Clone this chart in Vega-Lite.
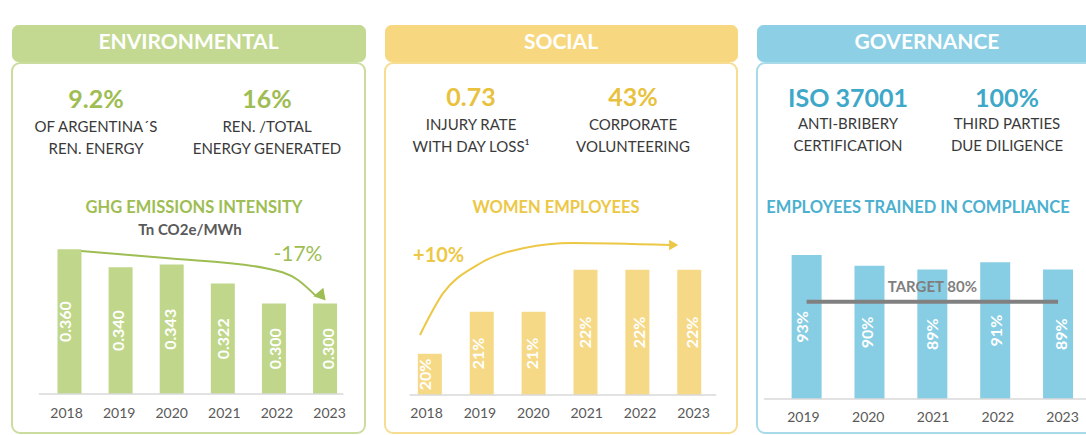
{
  "$schema": "https://vega.github.io/schema/vega-lite/v6.json",
  "background": "white",
  "padding": {"left": 11, "top": 24, "right": 0, "bottom": 0},
  "config": {"font": "Lato", "view": {"stroke": null}},
  "datasets": {
    "ghg": [
      {"year": 2018, "intensity": 0.360},
      {"year": 2019, "intensity": 0.340},
      {"year": 2020, "intensity": 0.343},
      {"year": 2021, "intensity": 0.322},
      {"year": 2022, "intensity": 0.300},
      {"year": 2023, "intensity": 0.300}
    ],
    "ghgTrend": [
      {"year": 2018.23, "level": 0.358},
      {"year": 2019.94, "level": 0.350},
      {"year": 2021.84, "level": 0.339},
      {"year": 2022.47, "level": 0.326},
      {"year": 2022.81, "level": 0.309}
    ],
    "women": [
      {"year": 2018, "share": 0.20},
      {"year": 2019, "share": 0.21},
      {"year": 2020, "share": 0.21},
      {"year": 2021, "share": 0.22},
      {"year": 2022, "share": 0.22},
      {"year": 2023, "share": 0.22}
    ],
    "womenTrend": [
      {"year": 2017.81, "level": 0.2045},
      {"year": 2018.26, "level": 0.2145},
      {"year": 2018.88, "level": 0.2209},
      {"year": 2019.82, "level": 0.2252},
      {"year": 2020.75, "level": 0.2264},
      {"year": 2022.63, "level": 0.2259}
    ],
    "compliance": [
      {"year": 2019, "trained": 0.93},
      {"year": 2020, "trained": 0.90},
      {"year": 2021, "trained": 0.89},
      {"year": 2022, "trained": 0.91},
      {"year": 2023, "trained": 0.89}
    ],
    "kpiEnv": [
      {"col": "L", "value": "9.2%", "line1": "OF ARGENTINA´S", "line2": "REN. ENERGY"},
      {"col": "R", "value": "16%", "line1": "REN. /TOTAL", "line2": "ENERGY GENERATED"}
    ],
    "kpiSoc": [
      {"col": "L", "value": "0.73", "line1": "INJURY RATE", "line2": "WITH DAY LOSS¹"},
      {"col": "R", "value": "43%", "line1": "CORPORATE", "line2": "VOLUNTEERING"}
    ],
    "kpiGov": [
      {"col": "L", "value": "ISO 37001", "line1": "ANTI-BRIBERY", "line2": "CERTIFICATION"},
      {"col": "R", "value": "100%", "line1": "THIRD PARTIES", "line2": "DUE DILIGENCE"}
    ]
  },
  "spacing": 18,
  "hconcat": [
    {
      "spacing": 0,
      "vconcat": [
        {
          "width": 353, "height": 36,
          "view": {"fill": "#c3d991", "stroke": "#c3d991", "cornerRadius": 6},
          "data": {"values": [{"pillar": "ENVIRONMENTAL"}]},
          "mark": {"type": "text", "color": "white", "fontSize": 21, "fontWeight": "bold", "baseline": "middle"},
          "encoding": {"text": {"field": "pillar"}}
        },
        {
          "width": 353, "height": 370,
          "view": {"stroke": "#cadd9e", "strokeWidth": 2, "cornerRadius": 8},
          "resolve": {"scale": {"x": "independent", "y": "independent"}, "axis": {"x": "independent", "y": "independent"}},
          "layer": [
            {
              "data": {"name": "kpiEnv"},
              "transform": [{"fold": ["value"], "as": ["row", "txt"]}],
              "mark": {"type": "text", "fontSize": 25, "fontWeight": "bold", "color": "#9ebd52"},
              "encoding": {
                "x": {"field": "col", "type": "nominal", "scale": {"domain": ["L", "R"], "range": [84, 255], "padding": 0}, "axis": null},
                "y": {"field": "row", "type": "nominal", "scale": {"domain": ["value"], "range": [37, 37], "padding": 0}, "axis": null},
                "text": {"field": "txt"}
              }
            },
            {
              "data": {"name": "kpiEnv"},
              "transform": [{"fold": ["line1", "line2"], "as": ["row", "txt"]}],
              "mark": {"type": "text", "fontSize": 15, "color": "#3a3a3a"},
              "encoding": {
                "x": {"field": "col", "type": "nominal", "scale": {"domain": ["L", "R"], "range": [84, 255], "padding": 0}, "axis": null},
                "y": {"field": "row", "type": "nominal", "scale": {"domain": ["line1", "line2"], "range": [64, 86], "padding": 0}, "axis": null},
                "text": {"field": "txt"}
              }
            },
            {
              "data": {"values": [{"title": "GHG EMISSIONS INTENSITY", "unit": "Tn CO2e/MWh"}]},
              "transform": [{"fold": ["title", "unit"], "as": ["row", "txt"]}],
              "mark": {"type": "text", "fontWeight": "bold"},
              "encoding": {
                "x": {"field": "row", "type": "nominal", "scale": {"domain": ["title", "unit"], "range": [182, 178], "padding": 0}, "axis": null},
                "y": {"field": "row", "type": "nominal", "scale": {"domain": ["title", "unit"], "range": [145, 167], "padding": 0}, "axis": null},
                "size": {"field": "row", "type": "nominal", "scale": {"type": "ordinal", "domain": ["title", "unit"], "range": [16.5, 15]}, "legend": null},
                "color": {"field": "row", "type": "nominal", "scale": {"domain": ["title", "unit"], "range": ["#9ebd52", "#595959"]}, "legend": null},
                "text": {"field": "txt"}
              }
            },
            {
              "layer": [
                {
                  "data": {"name": "ghg"},
                  "mark": {"type": "bar", "width": 24, "color": "#c0d78b"},
                  "encoding": {
                    "x": {"field": "year", "type": "quantitative", "scale": {"domain": [2016.973, 2023.684], "nice": false, "zero": false}, "axis": null},
                    "y": {"field": "intensity", "type": "quantitative", "scale": {"domain": [0.15691, 0.56575], "nice": false, "zero": false}, "axis": null},
                    "y2": {"datum": 0.2}
                  }
                },
                {
                  "data": {"values": [{"base": 0.2}]},
                  "mark": {"type": "rule", "color": "#d9d9d9", "strokeWidth": 1.5},
                  "encoding": {
                    "x": {"datum": 2017.4, "type": "quantitative", "axis": null},
                    "x2": {"datum": 2023.36},
                    "y": {"field": "base", "type": "quantitative", "axis": null}
                  }
                },
                {
                  "data": {"name": "ghgTrend"},
                  "mark": {"type": "line", "interpolate": "monotone", "color": "#9ebd52", "strokeWidth": 2},
                  "encoding": {
                    "x": {"field": "year", "type": "quantitative", "axis": null},
                    "y": {"field": "level", "type": "quantitative", "axis": null}
                  }
                },
                {
                  "data": {"values": [{"change": "-17%"}]},
                  "mark": {"type": "point", "shape": "triangle-down", "angle": -40, "filled": true, "size": 170, "color": "#9ebd52", "opacity": 1},
                  "encoding": {
                    "x": {"datum": 2022.94, "type": "quantitative", "axis": null},
                    "y": {"datum": 0.308, "type": "quantitative", "axis": null}
                  }
                },
                {
                  "data": {"values": [{"change": "-17%"}]},
                  "mark": {"type": "text", "fontSize": 21, "color": "#9ebd52"},
                  "encoding": {
                    "x": {"datum": 2022.47, "type": "quantitative", "axis": null},
                    "y": {"datum": 0.354, "type": "quantitative", "axis": null},
                    "text": {"field": "change"}
                  }
                }
              ]
            },
            {
              "data": {"name": "ghg"},
              "mark": {"type": "text", "angle": 270, "color": "white", "fontSize": 16, "fontWeight": "bold"},
              "encoding": {
                "x": {"field": "year", "type": "quantitative", "scale": {"domain": [2016.973, 2023.684], "nice": false, "zero": false},
                  "axis": {"orient": "bottom", "offset": -39, "values": [2018, 2019, 2020, 2021, 2022, 2023], "format": "d", "domain": false, "ticks": false, "grid": false, "labelPadding": 19, "labelBaseline": "middle", "labelFontSize": 14, "labelColor": "#595959", "labelFlush": false, "labelOverlap": false, "title": null}},
                "y": {"field": "intensity", "type": "quantitative", "scale": {"domain": [0.11381, 0.9315], "nice": false, "zero": false}, "axis": null},
                "text": {"field": "intensity", "type": "quantitative", "format": ".3f"}
              }
            }
          ]
        }
      ]
    },
    {
      "spacing": 0,
      "vconcat": [
        {
          "width": 352, "height": 36,
          "view": {"fill": "#f7d880", "stroke": "#f7d880", "cornerRadius": 6},
          "data": {"values": [{"pillar": "SOCIAL"}]},
          "mark": {"type": "text", "color": "white", "fontSize": 21, "fontWeight": "bold", "baseline": "middle"},
          "encoding": {"text": {"field": "pillar"}}
        },
        {
          "width": 352, "height": 370,
          "view": {"stroke": "#f6dd92", "strokeWidth": 2, "cornerRadius": 8},
          "resolve": {"scale": {"x": "independent", "y": "independent"}, "axis": {"x": "independent", "y": "independent"}},
          "layer": [
            {
              "data": {"name": "kpiSoc"},
              "transform": [{"fold": ["value"], "as": ["row", "txt"]}],
              "mark": {"type": "text", "fontSize": 25, "fontWeight": "bold", "color": "#e8c23f"},
              "encoding": {
                "x": {"field": "col", "type": "nominal", "scale": {"domain": ["L", "R"], "range": [86, 248], "padding": 0}, "axis": null},
                "y": {"field": "row", "type": "nominal", "scale": {"domain": ["value"], "range": [35, 35], "padding": 0}, "axis": null},
                "text": {"field": "txt"}
              }
            },
            {
              "data": {"name": "kpiSoc"},
              "transform": [{"fold": ["line1", "line2"], "as": ["row", "txt"]}],
              "mark": {"type": "text", "fontSize": 15, "color": "#3a3a3a"},
              "encoding": {
                "x": {"field": "col", "type": "nominal", "scale": {"domain": ["L", "R"], "range": [86, 248], "padding": 0}, "axis": null},
                "y": {"field": "row", "type": "nominal", "scale": {"domain": ["line1", "line2"], "range": [62, 84], "padding": 0}, "axis": null},
                "text": {"field": "txt"}
              }
            },
            {
              "data": {"values": [{"title": "WOMEN EMPLOYEES"}]},
              "transform": [{"fold": ["title"], "as": ["row", "txt"]}],
              "mark": {"type": "text", "fontWeight": "bold", "fontSize": 16.5, "color": "#ecc846"},
              "encoding": {
                "x": {"field": "row", "type": "nominal", "scale": {"domain": ["title"], "range": [171, 171], "padding": 0}, "axis": null},
                "y": {"field": "row", "type": "nominal", "scale": {"domain": ["title"], "range": [145, 145], "padding": 0}, "axis": null},
                "text": {"field": "txt"}
              }
            },
            {
              "layer": [
                {
                  "data": {"name": "women"},
                  "mark": {"type": "bar", "width": 24, "color": "#f6d986"},
                  "encoding": {
                    "x": {"field": "year", "type": "quantitative", "scale": {"domain": [2017.232, 2023.824], "nice": false, "zero": false}, "axis": null},
                    "y": {"field": "share", "type": "quantitative", "scale": {"domain": [0.18115, 0.26925], "nice": false, "zero": false}, "axis": null},
                    "y2": {"datum": 0.1902}
                  }
                },
                {
                  "data": {"values": [{"base": 0.1902}]},
                  "mark": {"type": "rule", "color": "#d9d9d9", "strokeWidth": 1.5},
                  "encoding": {
                    "x": {"datum": 2017.61, "type": "quantitative", "axis": null},
                    "x2": {"datum": 2023.52},
                    "y": {"field": "base", "type": "quantitative", "axis": null}
                  }
                },
                {
                  "data": {"name": "womenTrend"},
                  "mark": {"type": "line", "interpolate": "monotone", "color": "#ecc846", "strokeWidth": 2},
                  "encoding": {
                    "x": {"field": "year", "type": "quantitative", "axis": null},
                    "y": {"field": "level", "type": "quantitative", "axis": null}
                  }
                },
                {
                  "data": {"values": [{"change": "+10%"}]},
                  "mark": {"type": "point", "shape": "triangle-right", "filled": true, "size": 110, "color": "#ecc846", "opacity": 1},
                  "encoding": {
                    "x": {"datum": 2022.7, "type": "quantitative", "axis": null},
                    "y": {"datum": 0.2259, "type": "quantitative", "axis": null}
                  }
                },
                {
                  "data": {"values": [{"change": "+10%"}]},
                  "mark": {"type": "text", "fontSize": 20, "fontWeight": "bold", "color": "#ecc846"},
                  "encoding": {
                    "x": {"datum": 2018.17, "type": "quantitative", "axis": null},
                    "y": {"datum": 0.2233, "type": "quantitative", "axis": null},
                    "text": {"field": "change"}
                  }
                }
              ]
            },
            {
              "data": {"name": "women"},
              "mark": {"type": "text", "angle": 270, "color": "white", "fontSize": 16, "fontWeight": "bold"},
              "encoding": {
                "x": {"field": "year", "type": "quantitative", "scale": {"domain": [2017.232, 2023.824], "nice": false, "zero": false},
                  "axis": {"orient": "bottom", "offset": -38, "values": [2018, 2019, 2020, 2021, 2022, 2023], "format": "d", "domain": false, "ticks": false, "grid": false, "labelPadding": 18, "labelBaseline": "middle", "labelFontSize": 14, "labelColor": "#595959", "labelFlush": false, "labelOverlap": false, "title": null}},
                "y": {"field": "share", "type": "quantitative", "scale": {"domain": [0.1721, 0.3483], "nice": false, "zero": false}, "axis": null},
                "text": {"field": "share", "type": "quantitative", "format": ".0%"}
              }
            }
          ]
        }
      ]
    },
    {
      "spacing": 0,
      "vconcat": [
        {
          "width": 340, "height": 36,
          "view": {"fill": "#8dcfe5", "stroke": "#8dcfe5", "cornerRadius": 6},
          "data": {"values": [{"pillar": "GOVERNANCE"}]},
          "mark": {"type": "text", "color": "white", "fontSize": 21, "fontWeight": "bold", "baseline": "middle"},
          "encoding": {"text": {"field": "pillar"}}
        },
        {
          "width": 340, "height": 370,
          "view": {"stroke": "#a9daea", "strokeWidth": 2, "cornerRadius": 8},
          "resolve": {"scale": {"x": "independent", "y": "independent"}, "axis": {"x": "independent", "y": "independent"}},
          "layer": [
            {
              "data": {"name": "kpiGov"},
              "transform": [{"fold": ["value"], "as": ["row", "txt"]}],
              "mark": {"type": "text", "fontSize": 25, "fontWeight": "bold", "color": "#3ea8c8"},
              "encoding": {
                "x": {"field": "col", "type": "nominal", "scale": {"domain": ["L", "R"], "range": [91, 250], "padding": 0}, "axis": null},
                "y": {"field": "row", "type": "nominal", "scale": {"domain": ["value"], "range": [36, 36], "padding": 0}, "axis": null},
                "text": {"field": "txt"}
              }
            },
            {
              "data": {"name": "kpiGov"},
              "transform": [{"fold": ["line1", "line2"], "as": ["row", "txt"]}],
              "mark": {"type": "text", "fontSize": 15, "color": "#3a3a3a"},
              "encoding": {
                "x": {"field": "col", "type": "nominal", "scale": {"domain": ["L", "R"], "range": [91, 250], "padding": 0}, "axis": null},
                "y": {"field": "row", "type": "nominal", "scale": {"domain": ["line1", "line2"], "range": [61, 83], "padding": 0}, "axis": null},
                "text": {"field": "txt"}
              }
            },
            {
              "data": {"values": [{"title": "EMPLOYEES TRAINED IN COMPLIANCE"}]},
              "transform": [{"fold": ["title"], "as": ["row", "txt"]}],
              "mark": {"type": "text", "fontWeight": "bold", "fontSize": 16.5, "color": "#4cb0cf"},
              "encoding": {
                "x": {"field": "row", "type": "nominal", "scale": {"domain": ["title"], "range": [161, 161], "padding": 0}, "axis": null},
                "y": {"field": "row", "type": "nominal", "scale": {"domain": ["title"], "range": [145, 145], "padding": 0}, "axis": null},
                "text": {"field": "txt"}
              }
            },
            {
              "layer": [
                {
                  "data": {"name": "compliance"},
                  "mark": {"type": "bar", "width": 30, "color": "#87cde3"},
                  "encoding": {
                    "x": {"field": "year", "type": "quantitative", "scale": {"domain": [2018.29, 2023.54], "nice": false, "zero": false}, "axis": null},
                    "y": {"field": "trained", "type": "quantitative", "scale": {"domain": [0.43556, 1.46333], "nice": false, "zero": false}, "axis": null},
                    "y2": {"datum": 0.53}
                  }
                },
                {
                  "data": {"values": [{"base": 0.53}]},
                  "mark": {"type": "rule", "color": "#d9d9d9", "strokeWidth": 1.5},
                  "encoding": {
                    "x": {"datum": 2018.32, "type": "quantitative", "axis": null},
                    "x2": {"datum": 2023.54},
                    "y": {"field": "base", "type": "quantitative", "axis": null}
                  }
                },
                {
                  "data": {"values": [{"target": 0.8, "label": "TARGET 80%"}]},
                  "mark": {"type": "rule", "color": "#808080", "strokeWidth": 4},
                  "encoding": {
                    "x": {"datum": 2019, "type": "quantitative", "axis": null},
                    "x2": {"datum": 2023},
                    "y": {"field": "target", "type": "quantitative", "axis": null}
                  }
                },
                {
                  "data": {"values": [{"target": 0.8, "label": "TARGET 80%"}]},
                  "mark": {"type": "text", "color": "#7f7f7f", "fontSize": 15, "fontWeight": "bold", "dy": -15},
                  "encoding": {
                    "x": {"datum": 2021, "type": "quantitative", "axis": null},
                    "y": {"field": "target", "type": "quantitative", "axis": null},
                    "text": {"field": "label"}
                  }
                }
              ]
            },
            {
              "data": {"name": "compliance"},
              "mark": {"type": "text", "angle": 270, "color": "white", "fontSize": 16, "fontWeight": "bold"},
              "encoding": {
                "x": {"field": "year", "type": "quantitative", "scale": {"domain": [2018.29, 2023.54], "nice": false, "zero": false},
                  "axis": {"orient": "bottom", "offset": -34, "values": [2019, 2020, 2021, 2022, 2023], "format": "d", "domain": false, "ticks": false, "grid": false, "labelPadding": 18, "labelBaseline": "middle", "labelFontSize": 14, "labelColor": "#595959", "labelFlush": false, "labelOverlap": false, "title": null}},
                "y": {"field": "trained", "type": "quantitative", "scale": {"domain": [0.34111, 2.39667], "nice": false, "zero": false}, "axis": null},
                "text": {"field": "trained", "type": "quantitative", "format": ".0%"}
              }
            }
          ]
        }
      ]
    }
  ]
}
